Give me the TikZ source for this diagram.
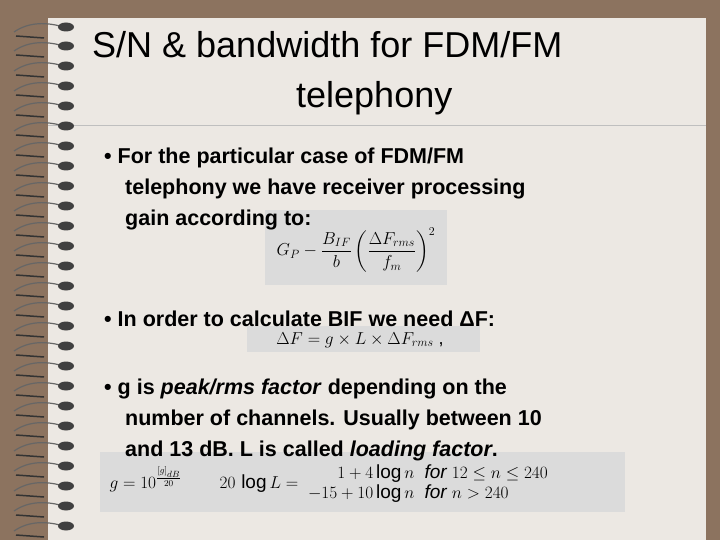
\documentclass[tikz,border=0pt]{standalone}
\usepackage{fontspec}
\setmainfont{Liberation Sans}
\usepackage{amsmath}
\begin{document}
\begin{tikzpicture}[x=1pt,y=-1pt,
  body/.style={anchor=north west,font=\fontsize{21.5}{31}\selectfont\bfseries,align=left,inner sep=0},
  fbox/.style={fill=black!14,draw=none}]
\useasboundingbox (0,0) rectangle (720,540);
\fill[fill={rgb,255:red,140;green,115;blue,95}] (0,0) rectangle (720,540);
\fill[fill={rgb,255:red,236;green,232;blue,227}] (48,18) rectangle (706,540);
\draw[black!25,line width=0.6] (48,125) -- (706,125);
\foreach \y in {27,46,66,86,106,126,146,166,186,206,226,246,266,286,306,326,346,366,386,406,426,446,466,486,506,526}{
  \draw[black!60,line width=1.2] (14,\y+5) .. controls (30,\y-6) and (48,\y-4) .. (60,\y-1);
  \draw[black!80,line width=1.5] (16,\y+9) -- (44,\y+11);
  \fill[black!75] (66,\y) ellipse (8 and 4.5);
}
\fill[fbox] (265,210) rectangle (447,285);
\fill[fbox] (247,326) rectangle (480,352);
\fill[fbox] (100,452) rectangle (625,512);
\node[anchor=north west,align=left,font=\fontsize{36}{50}\selectfont,inner sep=0] (title) at (92,31) {S/N \& bandwidth for FDM/FM\\\hspace*{204pt}telephony};
\node[body] (b1) at (104,148) {\textbullet\ For the particular case of FDM/FM\\\hspace*{21pt}telephony we have receiver processing\\\hspace*{21pt}gain according to:};
\node[font=\fontsize{18}{20}\selectfont] (f1) at (356,250) {$G_P-\dfrac{B_{IF}}{b}\left(\dfrac{\Delta F_{rms}}{f_m}\right)^{2}$};
\node[body] (b2) at (104,311) {\textbullet\ In order to calculate BIF we need ΔF:};
\node[font=\fontsize{18}{20}\selectfont] (f2) at (360,340) {$\Delta F=g\times L\times\Delta F_{rms}$ ,};
\node[body] (b3) at (104,379) {\textbullet\ g is \textit{peak/rms factor} depending on the\\\hspace*{21pt}number of channels. Usually between 10\\\hspace*{21pt}and 13 dB. L is called \textit{loading factor}.};
\node[font=\fontsize{19}{20}\selectfont,anchor=west] (f3) at (106,484) {$g=10^{\frac{[g]_{dB}}{20}}\qquad 20\,\log L=\begin{array}{rl}1+4\log n & \mathit{for}\ 12\le n\le 240\\ -15+10\log n & \mathit{for}\ n>240\end{array}$};
\end{tikzpicture}
\end{document}
